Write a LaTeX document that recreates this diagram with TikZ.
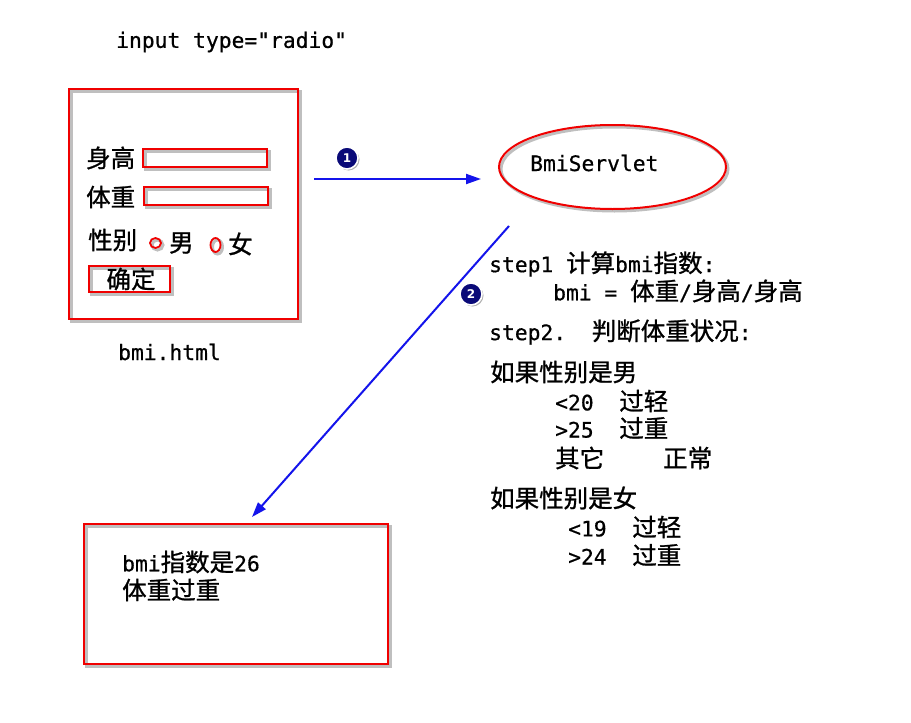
\documentclass[tikz,border=0pt]{standalone}
\usepackage{fontspec}
\setmainfont{DejaVu Sans Mono}[Ligatures=TeXOff,FakeBold=0.6]
\newfontfamily\cjkf[Scale=1.15,FakeBold=1]{Noto Sans CJK SC}
\newfontfamily\numf{DejaVu Sans}
\newcommand\zh[1]{{\cjkf #1}}
\usetikzlibrary{shapes.geometric,arrows.meta}
\definecolor{boxred}{RGB}{240,0,0}
\definecolor{arrblue}{RGB}{20,20,235}
\definecolor{navyb}{RGB}{10,10,120}
\tikzset{
  txt/.style={anchor=west, inner sep=0pt, font=\fontsize{21.3}{26}\selectfont},
  shad/.style={preaction={draw=black, draw opacity=0.25, line width=3pt, transform canvas={xshift=2pt,yshift=-2pt}}},
  redbox/.style={draw=boxred, line width=2pt, shad, rectangle, inner sep=0pt},
  radio/.style={draw=boxred, line width=1.8pt, ellipse, inner sep=0pt, shad},
  flow/.style={draw=arrblue, line width=2pt, -{Triangle[length=15pt,width=10pt]}},
  badge/.style={circle, fill=navyb, draw=white, line width=1.6pt, text=white, inner sep=0pt, minimum size=22pt,
     font=\numf\bfseries\fontsize{12}{12}\selectfont,
     preaction={fill=black, fill opacity=0.3, transform canvas={xshift=1.5pt,yshift=-1.5pt}}}
}
\begin{document}
\begin{tikzpicture}[x=1pt,y=-1pt]
\useasboundingbox (0,0) rectangle (911,723);
\fill[white] (0,0) rectangle (911,723);

\node[txt] (title) at (116,42) {input type="radio"};

% form
\node[redbox, minimum width=229pt, minimum height=230pt] (form) at (183.5,204) {};
\node[txt] (lh) at (86,158) {\zh{身高}};
\node[redbox, minimum width=124pt, minimum height=18pt] (in1) at (205,158) {};
\node[txt] (lw) at (86,197) {\zh{体重}};
\node[redbox, minimum width=124pt, minimum height=18pt] (in2) at (206,196) {};
\node[txt] (lg) at (88,240) {\zh{性别}};
\node[radio, minimum width=11pt, minimum height=10pt] (r1) at (155.5,243) {};
\node[txt] (male) at (169,243) {\zh{男}};
\node[radio, minimum width=10pt, minimum height=14pt] (r2) at (215.5,245) {};
\node[txt] (female) at (228,244) {\zh{女}};
\node[redbox, minimum width=81pt, minimum height=26pt, font=\fontsize{21.3}{26}\selectfont] (ok) at (129.5,279) {\hspace*{3pt}\zh{确定}};
\node[txt] (fname) at (118,352) {bmi.html};

% servlet
\node[draw=boxred, line width=2pt, ellipse, minimum width=227pt, minimum height=84pt, shad] (srv) at (612.5,167) {};
\node[txt] (srvt) at (530,163) {BmiServlet};

% arrows
\draw[flow] ([xshift=15pt,yshift=25pt]form.east) -- ([xshift=-17pt,yshift=-12pt]srv.west);
\node[badge] (b1) at (347,158) {1};

\node[redbox, minimum width=304pt, minimum height=140pt] (res) at (236,594) {};
\coordinate (a2s) at (509,226);
\draw[flow] (a2s) -- ([xshift=16pt,yshift=6pt]res.north);
\node[badge] (b2) at (471,294) {2};

\node[txt] (rt1) at (122,562) {bmi\zh{指数是}26};
\node[txt] (rt2) at (122,590) {\zh{体重过重}};

% steps
\node[txt] (s1) at (489,264) {step1 \zh{计算}bmi\zh{指数}:};
\node[txt] (s1b) at (553,291) {bmi = \zh{体重}/\zh{身高}/\zh{身高}};
\node[txt] (s2) at (489,332) {step2.~~\zh{判断体重状况}:};
\node[txt] (m0) at (490,372) {\zh{如果性别是男}};
\node[txt] (m1) at (555,401) {<20~~\zh{过轻}};
\node[txt] (m2) at (555,428) {>25~~\zh{过重}};
\node[txt] (m3) at (555,458) {\zh{其它}};
\node[txt] (m3b) at (663,458) {\zh{正常}};
\node[txt] (f0) at (490,498) {\zh{如果性别是女}};
\node[txt] (f1) at (568,527) {<19~~\zh{过轻}};
\node[txt] (f2) at (568,555) {>24~~\zh{过重}};
\end{tikzpicture}
\end{document}
